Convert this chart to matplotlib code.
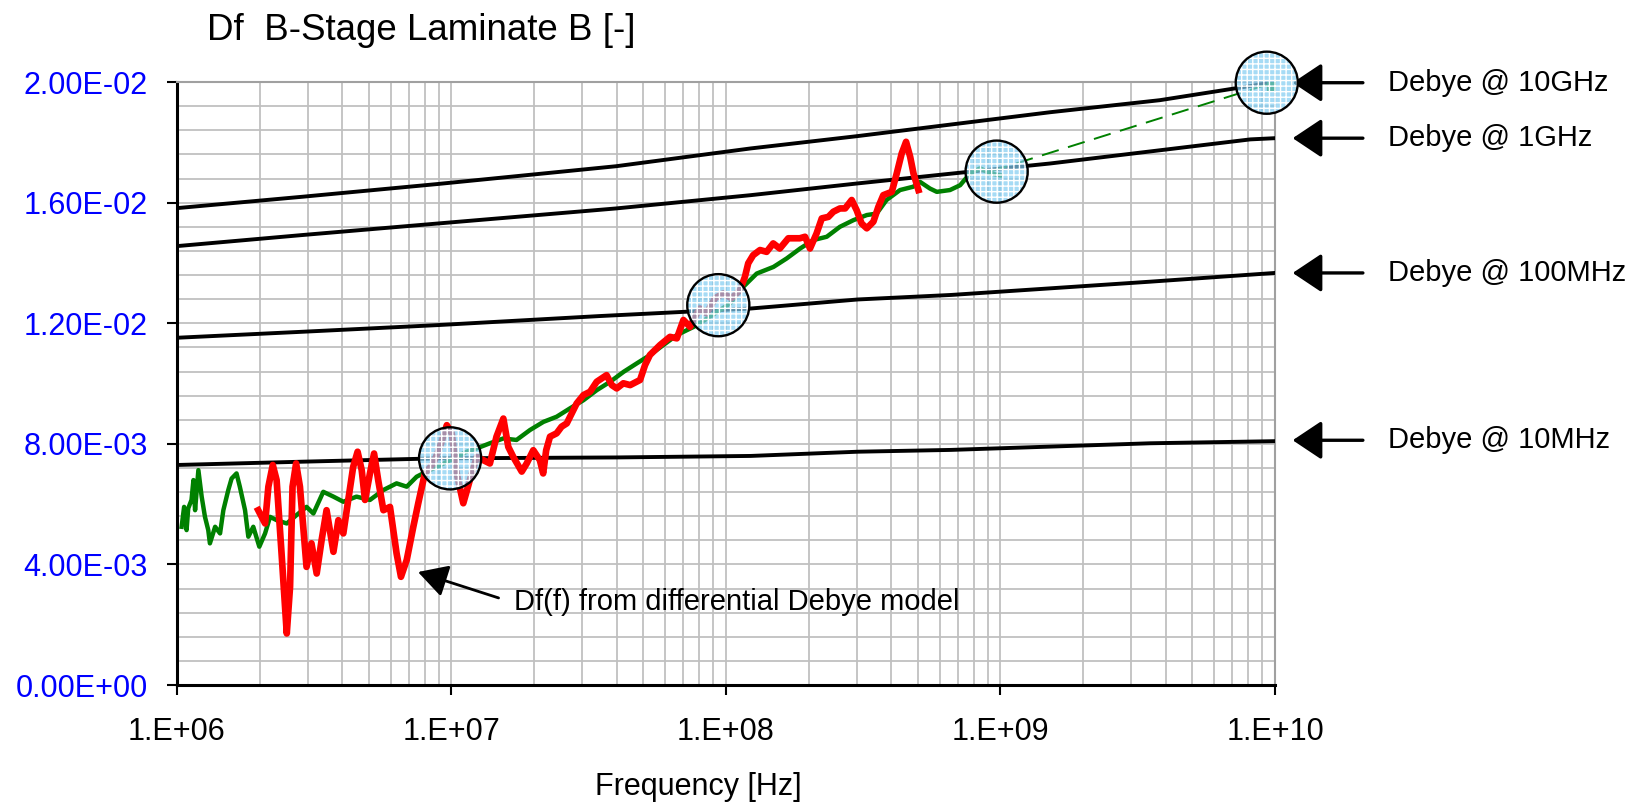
import numpy as np
import matplotlib
matplotlib.use("Agg")
import matplotlib.pyplot as plt
from matplotlib.ticker import FuncFormatter, MultipleLocator, LogLocator, NullFormatter

plt.rcParams['font.family'] = ['Liberation Sans', 'DejaVu Sans']

# --- data (frequency given as log10(f / Hz)) ---
debye_10ghz_logf = [6.0, 6.46, 6.95, 7.6, 8.09, 8.48, 9.18, 9.58, 10.0]
debye_10ghz_df = [0.01582, 0.0162, 0.01662, 0.01721, 0.0178, 0.01821, 0.0190, 0.0194, 0.0200]

debye_1ghz_logf = [6.0, 6.46, 6.95, 7.6, 8.09, 8.48, 8.89, 9.18, 9.545, 9.91, 10.0]
debye_1ghz_df = [0.01456, 0.01493, 0.01531, 0.01581, 0.01625, 0.01664, 0.01703, 0.0173, 0.0177, 0.0181, 0.01814]

debye_100mhz_logf = [6.0, 6.46, 6.95, 7.54, 8.09, 8.48, 8.82, 9.545, 10.0]
debye_100mhz_df = [0.01152, 0.01172, 0.01194, 0.01224, 0.01249, 0.01279, 0.01294, 0.01338, 0.01367]

debye_10mhz_logf = [6.0, 6.46, 6.95, 7.6, 8.09, 8.48, 8.82, 9.545, 10.0]
debye_10mhz_df = [0.0073, 0.00741, 0.00752, 0.00755, 0.00760, 0.00774, 0.0078, 0.00802, 0.00809]

green_logf = [6.017, 6.026, 6.035, 6.041, 6.053, 6.060, 6.066, 6.078, 6.090, 6.102,
              6.114, 6.120, 6.139, 6.157, 6.169, 6.187, 6.199, 6.217, 6.229, 6.248,
              6.260, 6.278, 6.300, 6.321, 6.339, 6.363, 6.400, 6.436, 6.472, 6.497,
              6.533, 6.570, 6.606, 6.654, 6.703, 6.752, 6.800, 6.837, 6.873, 6.909,
              6.950, 6.995, 7.055, 7.092, 7.140, 7.189, 7.237, 7.286, 7.335, 7.383,
              7.432, 7.481, 7.529, 7.578, 7.627, 7.675, 7.724, 7.772, 7.821, 7.882,
              7.942, 8.015, 8.063, 8.112, 8.173, 8.221, 8.270, 8.318, 8.367, 8.415,
              8.464, 8.513, 8.549, 8.585, 8.634, 8.682, 8.707, 8.743, 8.768, 8.816,
              8.853, 8.889, 8.926, 8.962, 8.998]
green_df = [0.00525, 0.00591, 0.00514, 0.00586, 0.00614, 0.00680, 0.00580, 0.00713, 0.00625, 0.00558,
            0.00514, 0.00470, 0.00525, 0.00503, 0.00580, 0.00647, 0.00685, 0.00702, 0.00658, 0.00580,
            0.00492, 0.00525, 0.00459, 0.00503, 0.00558, 0.00547, 0.00536, 0.00564, 0.00591, 0.00569,
            0.00641, 0.00625, 0.00608, 0.00625, 0.00614, 0.00647, 0.00669, 0.00658, 0.00691, 0.00708,
            0.00725, 0.00746, 0.00774, 0.00785, 0.00802, 0.00818, 0.00813, 0.00846, 0.00873, 0.00890,
            0.00918, 0.00945, 0.00978, 0.01006, 0.01039, 0.01067, 0.01095, 0.01128, 0.01161, 0.01188,
            0.01222, 0.01266, 0.01321, 0.01365, 0.01387, 0.01415, 0.01448, 0.01476, 0.01487, 0.01520,
            0.01542, 0.01559, 0.01564, 0.01609, 0.01642, 0.01653, 0.01669, 0.01647, 0.01636, 0.01642,
            0.01658, 0.01697, 0.01714, 0.01697, 0.01691]

red_logf = [6.296, 6.321, 6.333, 6.349, 6.363, 6.381, 6.400, 6.412, 6.421, 6.434,
            6.448, 6.472, 6.490, 6.509, 6.527, 6.545, 6.570, 6.588, 6.606, 6.624,
            6.642, 6.658, 6.673, 6.685, 6.703, 6.718, 6.733, 6.752, 6.776, 6.800,
            6.816, 6.837, 6.861, 6.879, 6.903, 6.934, 6.958, 6.983, 7.001, 7.019,
            7.043, 7.067, 7.092, 7.116, 7.140, 7.164, 7.189, 7.207, 7.225, 7.256,
            7.274, 7.298, 7.322, 7.334, 7.345, 7.359, 7.383, 7.401, 7.420, 7.438,
            7.456, 7.481, 7.505, 7.529, 7.565, 7.584, 7.602, 7.626, 7.651, 7.687,
            7.705, 7.723, 7.760, 7.796, 7.821, 7.845, 7.869, 7.894, 7.905, 7.929,
            7.960, 7.990, 8.020, 8.051, 8.069, 8.081, 8.099, 8.124, 8.148, 8.172,
            8.196, 8.227, 8.269, 8.288, 8.306, 8.330, 8.349, 8.373, 8.391, 8.415,
            8.434, 8.458, 8.476, 8.494, 8.513, 8.537, 8.555, 8.573, 8.604, 8.622,
            8.640, 8.656, 8.671, 8.683, 8.701]
red_df = [0.00580, 0.00536, 0.00658, 0.00730, 0.00680, 0.00437, 0.00171, 0.00326, 0.00658, 0.00735,
          0.00658, 0.00392, 0.00470, 0.00370, 0.00481, 0.00580, 0.00442, 0.00547, 0.00503, 0.00614,
          0.00724, 0.00774, 0.00713, 0.00614, 0.00702, 0.00768, 0.00680, 0.00580, 0.00591, 0.00437,
          0.00359, 0.00415, 0.00525, 0.00603, 0.00702, 0.00735, 0.00790, 0.00862, 0.00835, 0.00702,
          0.00603, 0.00680, 0.00757, 0.00746, 0.00735, 0.00824, 0.00884, 0.00790, 0.00757, 0.00708,
          0.00735, 0.00779, 0.00746, 0.00702, 0.00779, 0.00824, 0.00835, 0.00857, 0.00868, 0.00901,
          0.00934, 0.00962, 0.00973, 0.01006, 0.01028, 0.00995, 0.00984, 0.01001, 0.00995, 0.01012,
          0.01061, 0.01095, 0.01128, 0.01155, 0.01150, 0.01211, 0.01188, 0.01233, 0.01249, 0.01233,
          0.01283, 0.01299, 0.01283, 0.01310, 0.01354, 0.01399, 0.01426, 0.01443, 0.01437, 0.01465,
          0.01448, 0.01482, 0.01482, 0.01487, 0.01448, 0.01498, 0.01548, 0.01553, 0.01570, 0.01581,
          0.01581, 0.01609, 0.01575, 0.01531, 0.01515, 0.01537, 0.01586, 0.01625, 0.01636, 0.01697,
          0.01763, 0.01802, 0.01752, 0.01697, 0.01642]

extrap_logf = [8.962, 10.0]
extrap_df = [0.01703, 0.0200]

circle_logf = [6.995, 7.972, 8.986, 9.970]
circle_df = [0.00752, 0.0126, 0.01703, 0.01998]

debye_labels = ['Debye @ 10GHz', 'Debye @ 1GHz', 'Debye @ 100MHz', 'Debye @ 10MHz']
debye_label_df = [0.01998, 0.01814, 0.01367, 0.00812]

f = lambda lf: np.power(10.0, np.asarray(lf))

fig = plt.figure(figsize=(16.34, 8.05), dpi=100)
ax = fig.add_axes([0.1083, 0.149, 0.672, 0.749])

for lf, df in [(debye_10ghz_logf, debye_10ghz_df), (debye_1ghz_logf, debye_1ghz_df),
               (debye_100mhz_logf, debye_100mhz_df), (debye_10mhz_logf, debye_10mhz_df)]:
    ax.plot(f(lf), df, color='black', lw=2.8, zorder=3)

ax.plot(f(green_logf), green_df, color='#008000', lw=3.2, zorder=4)
ax.plot(f(red_logf), red_df, color='#ff0000', lw=4.8, zorder=5, solid_joinstyle='round')
ax.plot(f(extrap_logf), extrap_df, color='#008000', lw=1.4, ls=(0, (9, 5)), zorder=4)
ax.plot(f([10.0]), [0.0200], marker='s', ms=11, color='#008000', ls='none', zorder=6)

# highlighted points
ax.scatter(f(circle_logf), circle_df, s=2000, facecolors=(0.5, 0.8, 0.95, 0.7),
           edgecolors='white', linewidths=0, hatch='+++', zorder=7, clip_on=False)
ax.scatter(f(circle_logf), circle_df, s=2000, facecolors='none',
           edgecolors='black', linewidths=1.7, zorder=8, clip_on=False)

ax.set_xscale('log')
ax.set_xlim(1e6, 1e10)
ax.set_ylim(0, 0.02)
ax.xaxis.set_major_locator(LogLocator(base=10, numticks=10))
ax.xaxis.set_minor_locator(LogLocator(base=10, subs=np.arange(2, 10), numticks=20))
ax.xaxis.set_minor_formatter(NullFormatter())
ax.xaxis.set_major_formatter(FuncFormatter(lambda x, _: '1.E+%02d' % round(np.log10(x))))
ax.yaxis.set_major_locator(MultipleLocator(0.004))
ax.yaxis.set_minor_locator(MultipleLocator(0.0008))
ax.yaxis.set_major_formatter(FuncFormatter(lambda v, _: '%.2E' % v))

ax.grid(True, which='both', color='#c0c0c0', lw=1.3)
ax.set_axisbelow(True)
ax.tick_params(which='minor', length=0)
ax.tick_params(axis='y', which='major', direction='out', length=7, width=1.5,
               labelsize=22, labelcolor='#0000ff', pad=14)
ax.tick_params(axis='x', which='major', direction='out', length=7, width=1.5,
               labelsize=22, pad=16)
for side in ['top', 'right']:
    ax.spines[side].set_color('#a0a0a0')
    ax.spines[side].set_linewidth(1.5)
for side in ['left', 'bottom']:
    ax.spines[side].set_color('black')
    ax.spines[side].set_linewidth(2.2)

ax.set_xlabel('Frequency [Hz]', fontsize=22)
ax.xaxis.set_label_coords(0.475, -0.145)
fig.text(207 / 1634, 1 - 30 / 805, 'Df  B-Stage Laminate B [-]', fontsize=26.5, va='center', ha='left')

# Debye labels with arrows on the right
for lab, v in zip(debye_labels, debye_label_df):
    ax.annotate('', xy=(1.16e10, v), xytext=(2.09e10, v), annotation_clip=False,
                arrowprops=dict(arrowstyle='-|>,head_length=0.9,head_width=0.6',
                                mutation_scale=20, color='black', lw=2.4,
                                shrinkA=0, shrinkB=0))
    ax.text(2.58e10, v, lab, fontsize=21, va='center', ha='left', clip_on=False)

ax.annotate('', xy=(f(6.878), 0.00375), xytext=(f(7.1716), 0.00289),
            arrowprops=dict(arrowstyle='-|>,head_length=0.9,head_width=0.5',
                            mutation_scale=20, color='black', lw=2.0,
                            shrinkA=0, shrinkB=0), zorder=9)
ax.text(f(7.2277), 0.00276, 'Df(f) from differential Debye model', fontsize=21,
        va='center', ha='left')

fig.savefig('out.png', dpi=100)
